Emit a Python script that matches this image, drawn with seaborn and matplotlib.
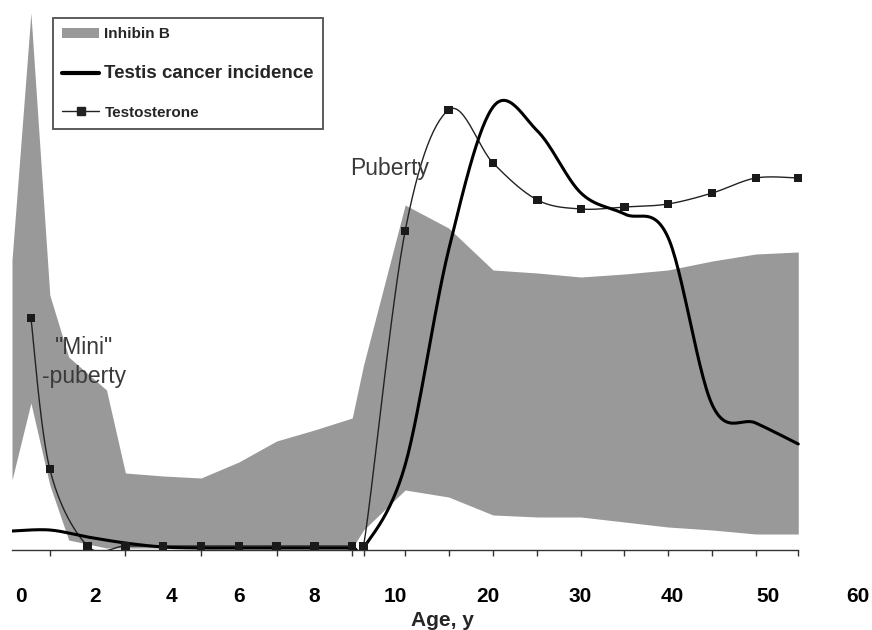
import numpy as np
import matplotlib
matplotlib.use("Agg")
import matplotlib.pyplot as plt
import seaborn as sns
from matplotlib.patches import Patch
from matplotlib.lines import Line2D
from matplotlib.transforms import ScaledTranslation

# Inhibin B range (band), arbitrary units
inhibin_age = [0, 0.5, 1, 1.5, 2.5, 3, 4, 5, 6, 7, 8, 9, 9.3,
               11.6, 16.2, 20.9, 25.6, 30.2, 34.8, 39.4, 44.1, 48.7, 53.2]
inhibin_low = [14, 29.4, 13, 2, 0.4, 0.4, 0.4, 0.4, 0.4, 0.4, 0.4, 0.4, 4,
               12, 10.6, 7, 6.6, 6.6, 5.6, 4.6, 4, 3.2, 3.2]
inhibin_high = [58, 107.4, 51, 38.6, 32, 15.4, 14.8, 14.4, 17.6, 21.8, 24, 26.4, 37,
                69, 64.4, 56, 55.4, 54.6, 55.2, 56, 57.8, 59.2, 59.6]

# Testosterone
testo_age = [0.5, 1, 2, 3, 4, 5, 6, 7, 8, 9, 9.3,
             11.6, 16.2, 20.9, 25.6, 30.2, 34.8, 39.4, 44.1, 48.7, 53.2]
testo = [46.4, 16.2, 0.8, 0.8, 0.8, 0.8, 0.8, 0.8, 0.8, 0.8, 0.8,
         63.8, 88, 77.4, 70, 68.2, 68.6, 69.2, 71.4, 74.4, 74.4]

# Testis cancer incidence
cancer_age = [0, 1, 2, 3, 4, 5, 6, 7, 8, 9, 9.3,
              11.6, 16.2, 20.9, 25.6, 30.2, 34.8, 39.4, 44.1, 48.7, 53.2]
cancer = [3.8, 4.0, 2.6, 1.4, 0.6, 0.4, 0.4, 0.4, 0.4, 0.4, 0.4,
          17, 60, 88.6, 83.8, 71.4, 67.2, 62.6, 29, 25.4, 21.2]

tick_ages = [0, 2, 4, 6, 8, 10, 20, 30, 40, 50, 60]
# small pixel nudges so the labels sit where the original put them
tick_nudge = [9, 7, 8, 0, 0, 5, 3, 1, -1, 0, -5]


# broken age axis: 1 unit per year up to 10, then 1 unit per 4 years
def fwd(a):
    a = np.asarray(a, dtype=float)
    return np.where(a <= 10, a, 10 + (a - 10) / 4)


def inv(p):
    p = np.asarray(p, dtype=float)
    return np.where(p <= 10, p, 10 + (p - 10) * 4)


# excel-like smoothed line (catmull-rom through the points, in axis space)
def smooth(ages, vals, n=30):
    p = np.column_stack([fwd(ages), vals])
    pts = np.vstack([p[0], p, p[-1]])
    t = np.linspace(0, 1, n)[:, None]
    out = []
    for i in range(1, len(pts) - 2):
        p0, p1, p2, p3 = pts[i - 1], pts[i], pts[i + 1], pts[i + 2]
        b1 = p1 + (p2 - p0) / 6
        b2 = p2 - (p3 - p1) / 6
        out.append((1 - t) ** 3 * p1 + 3 * (1 - t) ** 2 * t * b1
                   + 3 * (1 - t) * t ** 2 * b2 + t ** 3 * p2)
    c = np.vstack(out)
    return inv(c[:, 0]), c[:, 1]


sns.set_theme(style="white")
plt.rcParams['font.family'] = ['Liberation Sans', 'DejaVu Sans']

fig = plt.figure(figsize=(8.72, 6.30), dpi=100)
ax = fig.add_axes([12 / 872, 80 / 630, 860 / 872, 550 / 630])
ax.set_xscale('function', functions=(fwd, inv))

gray = '#999999'
ax.fill_between(inhibin_age, inhibin_low, inhibin_high, color=gray, lw=0, zorder=1)

tx, ty = smooth(testo_age, testo)
sns.lineplot(x=tx, y=ty, sort=False, estimator=None, color='#222222', lw=1.0, ax=ax, zorder=3)
cx, cy = smooth(cancer_age, cancer)
sns.lineplot(x=cx, y=cy, sort=False, estimator=None, color='black', lw=2.2, ax=ax, zorder=4)
sns.scatterplot(x=testo_age, y=testo, marker='s', s=36, color='#1a1a1a', edgecolor='none',
                ax=ax, zorder=5)

ax.set_xlim(0, 61)
ax.set_ylim(0, 110)
ax.set_yticks([])
for s in ['left', 'right', 'top']:
    ax.spines[s].set_visible(False)
ax.spines['bottom'].set_color('#333333')
ax.spines['bottom'].set_linewidth(1.0)
ax.spines['bottom'].set_bounds(0, cancer_age[-1])

ax.set_xticks(tick_ages)
ax.set_xticklabels([str(a) for a in tick_ages], fontsize=15, fontweight='bold')
ax.set_xticks(cancer_age, minor=True)
ax.tick_params(axis='x', which='major', length=0, pad=27, colors='black')
ax.tick_params(axis='x', which='minor', bottom=True, length=4, width=1, color='#333333',
               direction='out')
ax.set_xlabel('Age, y', fontsize=15, fontweight='bold', labelpad=3)
for tick, dx in zip(ax.xaxis.get_major_ticks(), tick_nudge):
    lab = tick.label1
    lab.set_transform(lab.get_transform() + ScaledTranslation(dx / 100, 0, fig.dpi_scale_trans))

ax.text(1.9, 37.6, '"Mini"\n-puberty', ha='center', va='center', fontsize=16.5,
        color='#3a3a3a', linespacing=1.35)
ax.text(8.94, 76.2, 'Puberty', ha='left', va='center', fontsize=16.5, color='#3a3a3a')

handles = [Patch(facecolor=gray, edgecolor='none'),
           Line2D([], [], color='black', lw=3),
           Line2D([], [], color='#222222', lw=1, marker='s', markersize=6)]
labels = ['Inhibin B', 'Testis cancer incidence', 'Testosterone']
leg = fig.legend(handles, labels, loc='upper left', bbox_to_anchor=(53 / 872, 1 - 18 / 630),
                 fancybox=False, frameon=True, prop={'size': 11, 'weight': 'bold'},
                 labelspacing=1.55, handlelength=2.4, handletextpad=0.35,
                 borderpad=0.62, borderaxespad=0, numpoints=1)
leg.get_frame().set_edgecolor('#222222')
leg.get_frame().set_linewidth(1.3)
leg.get_texts()[1].set_fontsize(13.5)

fig.savefig('out.png', dpi=100)
